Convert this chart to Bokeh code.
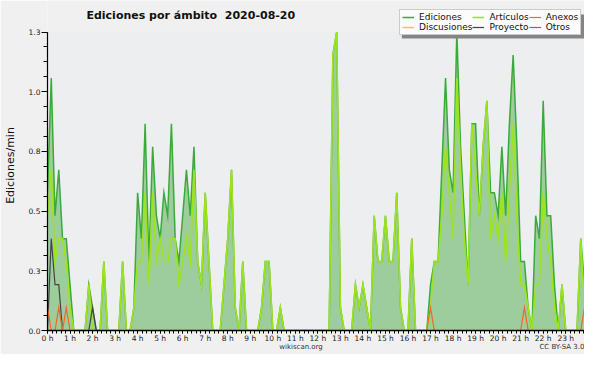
import numpy as np
from bokeh.plotting import figure
from bokeh.models import (Range1d, FixedTicker, NumeralTickFormatter, Legend,
                          LegendItem, BoxAnnotation, LinearAxis, Label)
from bokeh.embed import file_html
from bokeh.resources import INLINE

FONT = "DejaVu Sans"
chart_title = "Ediciones por ámbito \u00a02020-08-20"
y_axis_title = "Ediciones/min"
footer_left = "wikiscan.org"
footer_right = "CC BY-SA 3.0"
step_minutes = 10
hours = list(range(24))
hour_labels = [f"{h} h" for h in hours]

# edits per minute, one value every 10 minutes (rows = 2 hours)
ediciones = [
    0.6, 1.1, 0.5, 0.7, 0.4, 0.4, 0.2, 0, 0, 0, 0, 0.2,
    0.1, 0, 0, 0.3, 0, 0, 0, 0, 0.3, 0, 0, 0.1,
    0.6, 0.4, 0.9, 0.3, 0.8, 0.5, 0.4, 0.6, 0.5, 0.9, 0.4, 0.3,
    0.5, 0.7, 0.5, 0.8, 0.3, 0.2, 0.6, 0.3, 0, 0, 0, 0.2,
    0.4, 0.7, 0.1, 0, 0.3, 0, 0, 0, 0, 0.1, 0.3, 0.3,
    0, 0, 0.1, 0, 0, 0, 0, 0, 0, 0, 0, 0,
    0, 0, 0, 0, 1.2, 1.3, 0.1, 0, 0, 0, 0.2, 0.1,
    0.2, 0.1, 0, 0.5, 0.3, 0.3, 0.5, 0.3, 0.3, 0.6, 0.1, 0,
    0, 0.4, 0, 0, 0, 0, 0.2, 0.3, 0.3, 0.7, 1.1, 0.7,
    0.6, 1.3, 0.8, 0.5, 0.2, 0.9, 0.9, 0.5, 0.8, 1.0, 0.6, 0.6,
    0.5, 0.8, 0.5, 0.9, 1.2, 0.8, 0.3, 0.3, 0.1, 0, 0.5, 0.4,
    1.0, 0.5, 0.5, 0.2, 0, 0.2, 0, 0, 0, 0, 0.4, 0.2,
]
articulos = [
    0.5, 0.7, 0.3, 0.4, 0.4, 0.3, 0.1, 0, 0, 0, 0, 0.2,
    0, 0, 0, 0.3, 0, 0, 0, 0, 0.3, 0, 0, 0.1,
    0.3, 0.3, 0.6, 0.2, 0.6, 0.3, 0.4, 0.3, 0.3, 0.4, 0.4, 0.2,
    0.3, 0.4, 0.3, 0.7, 0.3, 0.2, 0.6, 0.3, 0, 0, 0, 0.2,
    0.4, 0.7, 0.1, 0, 0.3, 0, 0, 0, 0, 0.1, 0.3, 0.3,
    0, 0, 0.1, 0, 0, 0, 0, 0, 0, 0, 0, 0,
    0, 0, 0, 0, 1.2, 1.3, 0.1, 0, 0, 0, 0.2, 0.1,
    0.2, 0.1, 0, 0.5, 0.3, 0.3, 0.5, 0.3, 0.3, 0.6, 0.1, 0,
    0, 0.4, 0, 0, 0, 0, 0.1, 0.3, 0.3, 0.5, 0.8, 0.6,
    0.4, 1.1, 0.7, 0.4, 0.2, 0.9, 0.7, 0.5, 0.8, 1.0, 0.4, 0.5,
    0.4, 0.6, 0.3, 0.6, 0.9, 0.5, 0.2, 0.2, 0.1, 0, 0.2, 0.2,
    0.6, 0.4, 0.3, 0.1, 0, 0.2, 0, 0, 0, 0, 0.4, 0.1,
]
proyecto = [
    0, 0.4, 0.2, 0.2, 0, 0, 0, 0, 0, 0, 0, 0,
    0.1, 0, 0, 0, 0, 0, 0, 0, 0, 0, 0, 0,
    0, 0, 0, 0, 0, 0, 0, 0, 0, 0, 0, 0,
    0, 0, 0, 0, 0, 0, 0, 0, 0, 0, 0, 0,
    0, 0, 0, 0, 0, 0, 0, 0, 0, 0, 0, 0,
    0, 0, 0, 0, 0, 0, 0, 0, 0, 0, 0, 0,
    0, 0, 0, 0, 0, 0, 0, 0, 0, 0, 0, 0,
    0, 0, 0, 0, 0, 0, 0, 0, 0, 0, 0, 0,
    0, 0, 0, 0, 0, 0, 0, 0, 0, 0, 0, 0,
    0, 0, 0, 0, 0, 0, 0, 0, 0, 0, 0, 0,
    0, 0, 0, 0, 0, 0, 0, 0, 0, 0, 0, 0,
    0, 0, 0, 0, 0, 0, 0, 0, 0, 0, 0, 0,
]
anexos = [
    0.1, 0, 0, 0.1, 0, 0.1, 0, 0, 0, 0, 0, 0,
    0, 0, 0, 0, 0, 0, 0, 0, 0, 0, 0, 0,
    0, 0, 0, 0, 0, 0, 0, 0, 0, 0, 0, 0,
    0, 0, 0, 0, 0, 0, 0, 0, 0, 0, 0, 0,
    0, 0, 0, 0, 0, 0, 0, 0, 0, 0, 0, 0,
    0, 0, 0, 0, 0, 0, 0, 0, 0, 0, 0, 0,
    0, 0, 0, 0, 0, 0, 0, 0, 0, 0, 0, 0,
    0, 0, 0, 0, 0, 0, 0, 0, 0, 0, 0, 0,
    0, 0, 0, 0, 0, 0, 0.1, 0, 0, 0, 0, 0,
    0, 0, 0, 0, 0, 0, 0, 0, 0, 0, 0, 0,
    0, 0, 0, 0, 0, 0, 0, 0.1, 0, 0, 0, 0,
    0, 0, 0, 0, 0, 0, 0, 0, 0, 0, 0, 0.1,
]
discusiones = [
    0, 0, 0, 0, 0, 0, 0, 0, 0, 0, 0, 0,
    0, 0, 0, 0, 0, 0, 0, 0, 0, 0, 0, 0,
    0, 0, 0, 0, 0, 0, 0, 0, 0, 0, 0, 0,
    0, 0, 0, 0, 0, 0, 0, 0, 0, 0, 0, 0,
    0, 0, 0, 0, 0, 0, 0, 0, 0, 0, 0, 0,
    0, 0, 0, 0, 0, 0, 0, 0, 0, 0, 0, 0,
    0, 0, 0, 0, 0, 0, 0, 0, 0, 0, 0, 0,
    0, 0, 0, 0, 0, 0, 0, 0, 0, 0, 0, 0,
    0, 0, 0, 0, 0, 0, 0, 0, 0, 0, 0, 0,
    0, 0, 0, 0, 0, 0, 0, 0, 0, 0, 0, 0,
    0, 0, 0, 0, 0, 0, 0, 0, 0, 0, 0, 0,
    0, 0, 0, 0, 0, 0, 0, 0, 0, 0, 0, 0,
]
otros = list(discusiones)

n = len(ediciones)
x = np.arange(n) * step_minutes / 60.0
y_max = max(ediciones)

# layout in canvas pixels
W, H = 584, 354
ML, MR, MT, MB = 46, 0, 0, 24
plot_top = 31.5                      # where y_max sits
frame_w = W - ML - MR
frame_bottom = H - MB
frame_h = frame_bottom - MT
x0, x1 = 0.0, float(x[-1])
y_top = y_max * frame_h / (frame_bottom - plot_top)
dx = (x1 - x0) / frame_w   # data units per px
dy = y_top / frame_h


def px_x(px):
    return x0 + (px - ML) * dx


def px_y(py):
    return (frame_bottom - py) * dy


p = figure(width=W, height=H, output_backend="svg", toolbar_location=None,
           x_range=Range1d(x0, x1), y_range=Range1d(0, y_top),
           min_border_left=ML, min_border_right=MR,
           min_border_top=MT, min_border_bottom=MB,
           background_fill_color="#f0f0f0", border_fill_color="#f0f0f0",
           outline_line_color=None)
p.title.visible = False

# plot area background (0 .. y_max)
p.add_layout(BoxAnnotation(bottom=0, top=y_max, fill_color="#eceef0", fill_alpha=1.0,
                           line_color=None, level="underlay"))

p.varea(x=x, y1=0, y2=ediciones, fill_color="#9dcc9d", fill_alpha=1.0)

r_ed = p.line(x, ediciones, line_color="#3aab3a", line_width=1.5, line_join="miter")
r_dis = p.line(x, discusiones, line_color="#f2c440", line_width=1.5)
r_otr = p.line(x, otros, line_color="#9b48e8", line_width=1.2)
r_art = p.line(x, articulos, line_color="#9de41c", line_width=1.6, line_join="miter")
r_pro = p.line(x, proyecto, line_color="#444444", line_width=1.2, line_join="miter")
r_anx = p.line(x, anexos, line_color="#f0682a", line_width=1.2, line_join="miter")

# axes
yt = FixedTicker(ticks=[y_max * k / 5 for k in range(6)],
                 minor_ticks=[y_max * k / 20 for k in range(21)])
p.yaxis.ticker = yt
p.ygrid.ticker = yt
p.yaxis.bounds = (0, y_max)
p.yaxis.formatter = NumeralTickFormatter(format="0.0")
p.yaxis.axis_label = y_axis_title
p.yaxis.axis_label_text_font = FONT
p.yaxis.axis_label_text_font_style = "normal"
p.yaxis.axis_label_text_font_size = "11px"
p.yaxis.axis_label_text_color = "#111111"
p.yaxis.axis_label_standoff = 9
p.yaxis.major_label_text_font = FONT
p.yaxis.major_label_text_font_size = "7.5px"
p.yaxis.major_label_text_color = "#222222"
p.yaxis.major_label_standoff = 1
p.yaxis.major_tick_out = 6
p.yaxis.major_tick_in = 0
p.yaxis.minor_tick_out = 4
p.yaxis.minor_tick_in = 0
p.yaxis.axis_line_width = 1.2

xt = FixedTicker(ticks=hours, minor_ticks=[k / 5 for k in range(24 * 5)])
p.xaxis.ticker = xt
p.xaxis.major_label_overrides = {h: lab for h, lab in zip(hours, hour_labels)}
p.xaxis.major_label_text_font = FONT
p.xaxis.major_label_text_font_size = "7.5px"
p.xaxis.major_label_text_color = "#222222"
p.xaxis.major_label_standoff = 0
p.xaxis.major_tick_out = 3
p.xaxis.major_tick_in = 0
p.xaxis.minor_tick_out = 3
p.xaxis.minor_tick_in = 0
p.xaxis.axis_line_width = 1.6

for ax in (p.xaxis, p.yaxis):
    ax.axis_line_color = "black"
    ax.major_tick_line_color = "black"
    ax.minor_tick_line_color = "black"

p.xgrid.grid_line_color = None
p.ygrid.grid_line_color = "#c8c8c8"
p.ygrid.grid_line_width = 1

# footer texts as a tick-less extra axis below the hour axis
foot_pos = [px_x(300), px_x(566)]
footer = LinearAxis(ticker=FixedTicker(ticks=foot_pos, minor_ticks=[]),
                    major_label_overrides={foot_pos[0]: footer_left,
                                           foot_pos[1]: footer_right},
                    axis_line_color=None, major_tick_line_color=None,
                    minor_tick_line_color=None, major_tick_out=0, major_tick_in=0,
                    major_label_standoff=-3, major_label_text_font=FONT,
                    major_label_text_font_size="7px",
                    major_label_text_color="#333333")
p.add_layout(footer, "below")

# title
p.add_layout(Label(x=px_x(85), y=px_y(15), text=chart_title, text_font=FONT,
                   text_font_size="11px", text_font_style="bold",
                   text_color="#111111", text_baseline="alphabetic"))

# legend shadow + legend (legend box: x 398..581, y 11..35 in canvas px)
leg_left, leg_bottom, leg_h = 398, 35, 24
p.add_layout(BoxAnnotation(left=px_x(leg_left + 3), right=px_x(584),
                           top=px_y(leg_bottom - leg_h + 3), bottom=px_y(leg_bottom + 3),
                           fill_color="#858585", fill_alpha=1.0, line_color=None))
legend = Legend(items=[
    LegendItem(label="Ediciones", renderers=[r_ed]),
    LegendItem(label="Artículos", renderers=[r_art]),
    LegendItem(label="Anexos", renderers=[r_anx]),
    LegendItem(label="Discusiones", renderers=[r_dis]),
    LegendItem(label="Proyecto", renderers=[r_pro]),
    LegendItem(label="Otros", renderers=[r_otr]),
], location=(leg_left - ML, frame_bottom - leg_bottom), orientation="horizontal", ncols=3,
    label_text_font=FONT, label_text_font_size="9px", label_text_color="#111111",
    glyph_width=12, glyph_height=8, label_height=8, label_standoff=5,
    spacing=0, padding=2, margin=0,
    background_fill_color="#fcfcfc", background_fill_alpha=1.0,
    border_line_color="#9a9a9a", border_line_width=1)
p.add_layout(legend)

open("out.html", "w").write(file_html(p, INLINE))
